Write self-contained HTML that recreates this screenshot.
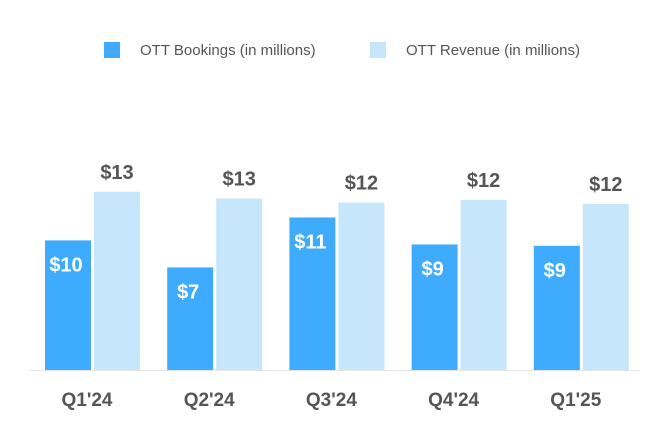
<!DOCTYPE html>
<html><head><meta charset="utf-8"><style>
body{margin:0;background:#fff;}
svg{display:block;font-family:"Liberation Sans",sans-serif;}
</style></head><body>
<svg id="chart" width="672" height="440">
<g>
<rect x="104" y="42" width="16" height="16" fill="#3fabfc"/>
<text x="140" y="55" font-size="15" fill="#555">OTT Bookings (in millions)</text>
<rect x="370" y="42" width="16" height="16" fill="#c6e6fc"/>
<text x="406" y="55" font-size="15" fill="#555">OTT Revenue (in millions)</text>
</g>
<line x1="30" y1="370.5" x2="640" y2="370.5" stroke="#e4e4e4" stroke-width="1"/>
<g id="bars"></g>
</svg>
<script>
const categories=["Q1'24","Q2'24","Q3'24","Q4'24","Q1'25"];
const bookings=[9.6,7.6,11.3,9.3,9.2];
const revenue=[13.2,12.7,12.4,12.6,12.3];
const bookingLabels=["$10","$7","$11","$9","$9"];
const revenueLabels=["$13","$13","$12","$12","$12"];
const NS="http://www.w3.org/2000/svg";
const g=document.getElementById('bars');
const baseY=370, scale=13.5;
const y=v=>baseY-v*scale;
const xGroup=i=>45+i*122.2;
function mk(tag,attrs){const e=document.createElementNS(NS,tag);for(const k in attrs)e.setAttribute(k,attrs[k]);g.appendChild(e);return e;}
categories.forEach((c,i)=>{
  const x=xGroup(i);
  const b=mk('rect',{x:x,y:y(bookings[i]),width:46,height:baseY-y(bookings[i]),fill:'#3fabfc'});
  
  
  const r=mk('rect',{x:x+49,y:y(revenue[i]),width:46,height:baseY-y(revenue[i]),fill:'#c6e6fc'});
  
  
  const bl=mk('text',{x:x+21,y:y(bookings[i])+31,'text-anchor':'middle','font-size':20,'font-weight':'bold',fill:'#fff'});
  bl.textContent=bookingLabels[i];
  
  
  const rl=mk('text',{x:x+72,y:y(revenue[i])-13,'text-anchor':'middle','font-size':20,'font-weight':'bold',fill:'#555'});
  rl.textContent=revenueLabels[i];
  
  
  const cl=mk('text',{x:x+42,y:406,'text-anchor':'middle','font-size':19,'font-weight':'bold',fill:'#555'});
  cl.textContent=c;
  
  
});
</script>
</body></html>
